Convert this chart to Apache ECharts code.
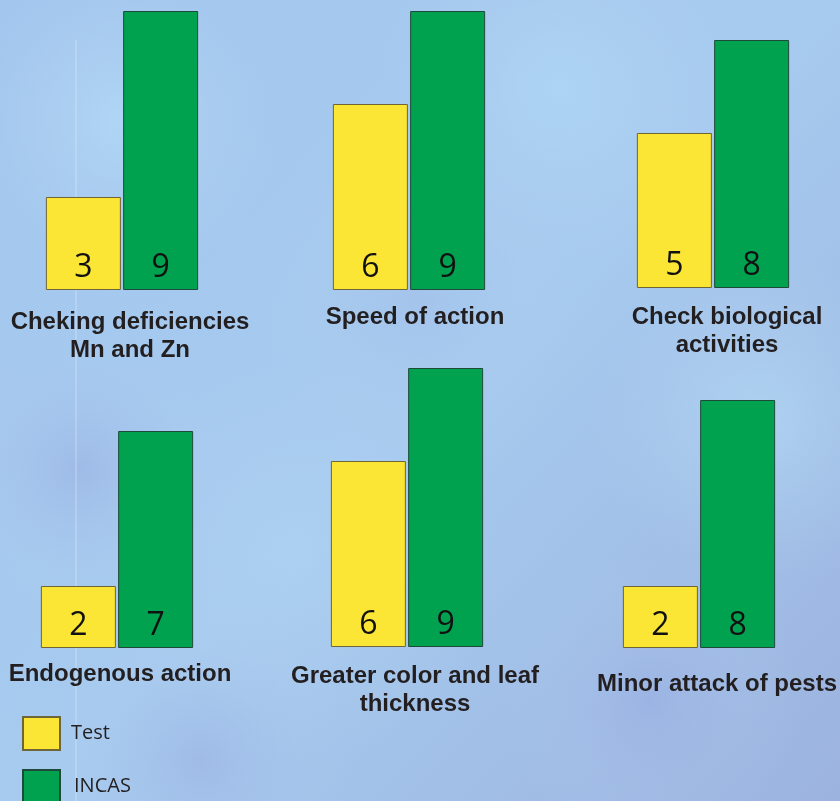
<!DOCTYPE html>
<html>
<head>
<meta charset="utf-8">
<script src="https://cdn.jsdelivr.net/npm/echarts@6/dist/echarts.min.js"></script>
<style>
  html, body { margin: 0; padding: 0; }
  #chart { width: 840px; height: 801px; }
</style>
</head>
<body>
<div id="chart"></div>
<script>
// panel titles, one per small bar chart
const categories = [
  'Cheking deficiencies\nMn and Zn',
  'Speed of action',
  'Check biological\nactivities',
  'Endogenous action',
  'Greater color and leaf\nthickness',
  'Minor attack of pests'
];
const seriesNames = ['Test', 'INCAS'];
const testValues = [3, 6, 5, 2, 6, 2];
const incasValues = [9, 9, 8, 7, 9, 8];

const yellow = '#fbe635';
const green = '#00a14f';
const textColor = '#231f20';

// panel layout: grid left/top, title centre
const panels = [
  { left: 46, top: 11, tx: 130, ty: 336 },
  { left: 333, top: 11, tx: 415, ty: 317 },
  { left: 637, top: 9, tx: 727, ty: 331 },
  { left: 41, top: 369, tx: 120, ty: 674 },
  { left: 331, top: 368, tx: 415, ty: 690 },
  { left: 623, top: 369, tx: 717, ty: 684 }
];

const grids = [], xAxes = [], yAxes = [], series = [], graphics = [];

// soft background texture
const blobs = [
  [120, 120, 160, 'rgba(185,225,250,0.55)'],
  [560, 90, 180, 'rgba(180,222,248,0.5)'],
  [760, 420, 170, 'rgba(185,228,250,0.5)'],
  [300, 560, 200, 'rgba(176,215,245,0.45)'],
  [650, 700, 150, 'rgba(150,170,225,0.45)'],
  [80, 470, 140, 'rgba(150,168,222,0.45)'],
  [420, 300, 160, 'rgba(160,185,230,0.4)'],
  [200, 760, 150, 'rgba(150,168,222,0.4)']
];
blobs.forEach(b => {
  graphics.push({
    type: 'circle', silent: true, z: -10,
    shape: { cx: b[0], cy: b[1], r: b[2] },
    style: { fill: new echarts.graphic.RadialGradient(0.5, 0.5, 0.5, [
      { offset: 0, color: b[3] }, { offset: 1, color: 'rgba(180,210,240,0)' }
    ]) }
  });
});
graphics.push({
  type: 'line', silent: true, z: -5,
  shape: { x1: 76, y1: 40, x2: 76, y2: 801 },
  style: { stroke: 'rgba(235,245,255,0.45)', lineWidth: 1 }
});

panels.forEach((p, i) => {
  grids.push({ left: p.left, top: p.top, width: 152, height: 279 });
  xAxes.push({ type: 'category', gridIndex: i, data: [categories[i]], show: false });
  yAxes.push({ type: 'value', gridIndex: i, min: 0, max: 9, show: false });
  const label = {
    show: true, position: 'insideBottom', distance: 6,
    fontFamily: 'Open Sans', fontSize: 32, color: '#111'
  };
  series.push({
    name: seriesNames[0], type: 'bar', xAxisIndex: i, yAxisIndex: i,
    barWidth: 75, barGap: '3%', data: [testValues[i]], label,
    itemStyle: { color: yellow, borderColor: '#6f6536', borderWidth: 1 }
  });
  series.push({
    name: seriesNames[1], type: 'bar', xAxisIndex: i, yAxisIndex: i,
    barWidth: 75, barGap: '3%', data: [incasValues[i]], label,
    itemStyle: { color: green, borderColor: '#1f4a3a', borderWidth: 1 }
  });
  graphics.push({
    type: 'text', x: p.tx, y: p.ty, z: 10,
    style: {
      text: categories[i], align: 'center', verticalAlign: 'middle',
      fontFamily: 'Liberation Sans', fontWeight: 'bold', fontSize: 24,
      lineHeight: 28, fill: textColor
    }
  });
});

// one legend per entry so they stack at the bottom-left
const legendTops = [716, 769];
const legends = seriesNames.map((name, i) => ({
  data: [name], left: 22, top: legendTops[i], padding: 0,
  itemWidth: 37, itemHeight: 33, icon: 'rect',
  textStyle: { fontFamily: 'Open Sans', fontSize: 20, color: textColor, padding: [0, 0, 0, 6 + i * 3] }
}));

const chart = echarts.init(document.getElementById('chart'));
chart.setOption({
  animation: false,
  backgroundColor: new echarts.graphic.LinearGradient(0, 0, 1, 1, [
    { offset: 0, color: '#a3c6ee' },
    { offset: 0.5, color: '#a7cbef' },
    { offset: 1, color: '#9cb3df' }
  ]),
  legend: legends,
  grid: grids,
  xAxis: xAxes,
  yAxis: yAxes,
  series: series,
  graphic: graphics
});
window.addEventListener('resize', () => chart.resize());
</script>
</body>
</html>
